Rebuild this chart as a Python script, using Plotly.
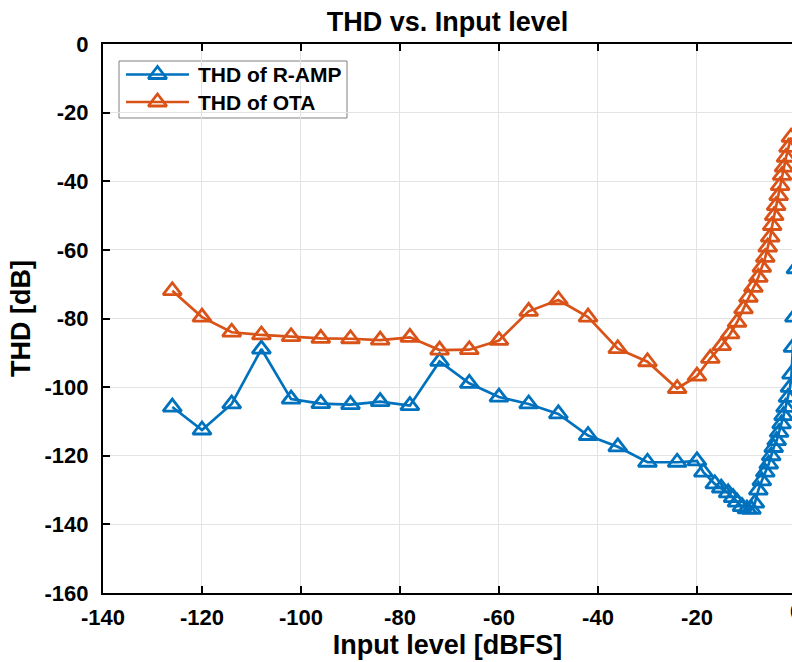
import plotly.graph_objects as go

# ---- data ----
x_ramp = [-126, -120, -114, -108, -102, -96, -90, -84, -78, -72, -66, -60, -54, -48, -42, -36, -30, -24,
          -20, -18.7, -16.4, -15.1, -13.7, -12.7, -11.9, -10.9, -9.9, -9.0, -8.3,
          -7.6, -6.9, -6.2, -5.5, -5.0, -4.5, -3.9, -3.4, -2.9, -2.5,
          -2.1, -1.6, -1.2, -0.9, -0.6, -0.3, 0]
thd_ramp = [-105.8, -112.5, -104.9, -88.9, -103.5, -104.8, -105.1, -104.2, -105.4, -92.5,
            -98.9, -102.9, -104.9, -107.8, -114.1, -117.4, -121.9, -121.9,
            -121.5, -124.8, -128.2, -129.4, -130.8, -132.2, -133.5, -134.8, -135.5, -135.6, -133.8,
            -130.0, -127.3, -124.8, -122.4, -120.0, -117.6, -115.6, -113.2, -110.7, -108.3,
            -105.9, -103.0, -100.1, -96.2, -88.4, -79.6, -65.5]

x_ota = [-126, -120, -114, -108, -102, -96, -90, -84, -78, -72, -66, -60, -54, -48, -42, -36, -30, -24,
         -20, -17.3, -15.0, -13.3, -11.9, -10.6, -9.6, -8.6, -7.6, -6.9, -6.2,
         -5.7, -5.2, -4.8, -4.4, -4.0, -3.5, -3.2, -2.8, -2.4, -2.0,
         -1.5, -1.0]
thd_ota = [-71.9, -79.6, -84.0, -84.8, -85.3, -85.8, -85.9, -86.3, -85.5, -89.2,
           -89.1, -86.4, -77.9, -74.6, -79.6, -88.8, -92.6, -100.4,
           -96.8, -91.6, -87.9, -84.5, -81.1, -77.2, -73.8, -70.9, -68.0, -65.1, -62.2,
           -59.2, -56.3, -52.9, -50.0, -47.1, -44.2, -41.3, -38.3, -35.9, -33.0,
           -30.1, -27.2]

x_ticks = [-140, -120, -100, -80, -60, -40, -20]
x_ticktext = ["-140", "-120", "-100", "-80", "-60", "-40", "-20"]
y_ticks = [-160, -140, -120, -100, -80, -60, -40, -20, 0]
y_ticktext = ["-160", "-140", "-120", "-100", "-80", "-60", "-40", "-20", "0"]
series_names = ["THD of R-AMP", "THD of OTA"]
colors = ["#0072BD", "#D95319"]

FONT = "Liberation Sans, Arial, Helvetica, sans-serif"
X_END = -0.8
W, H = 792, 662
MARGIN = dict(l=103, r=0, t=44, b=69)
PW = W - MARGIN["l"] - MARGIN["r"]
PH = H - MARGIN["t"] - MARGIN["b"]


def px_to_paper(px, py):
    """page pixel -> paper fraction of the plot area."""
    return (px - MARGIN["l"]) / PW, 1 - (py - MARGIN["t"]) / PH


LINE_W = 2.7
MARKER = dict(symbol="triangle-up-open", size=16)

fig = go.Figure()
for xs, ys, name, c in [(x_ramp, thd_ramp, series_names[0], colors[0]),
                        (x_ota, thd_ota, series_names[1], colors[1])]:
    fig.add_trace(go.Scatter(
        x=xs, y=ys, name=name, mode="lines+markers", showlegend=False,
        line=dict(color=c, width=LINE_W),
        marker=dict(**MARKER, color=c, line=dict(color=c, width=2.8)),
    ))

# ---- hand-made legend box (MATLAB style) ----
bx0, by1 = px_to_paper(119, 61)
bx1, by0 = px_to_paper(347, 118)
fig.add_shape(type="rect", xref="paper", yref="paper", x0=bx0, x1=bx1, y0=by0, y1=by1,
              line=dict(color="#808080", width=1), fillcolor="white", layer="between")
row_py = [74.5, 102]
for name, c, py in zip(series_names, colors, row_py):
    lx0, ly = px_to_paper(126, py)
    lx1, _ = px_to_paper(189, py)
    mx, _ = px_to_paper(157.5, py)
    tx, _ = px_to_paper(196, py)
    fig.add_shape(type="line", xref="paper", yref="paper", x0=lx0, x1=lx1, y0=ly, y1=ly,
                  line=dict(color=c, width=LINE_W), layer="between")
    fig.add_trace(go.Scatter(x=[mx], y=[ly], xaxis="x2", yaxis="y2", mode="markers",
                             showlegend=False, hoverinfo="skip", cliponaxis=False,
                             marker=dict(**MARKER, color=c, line=dict(color=c, width=2.8))))
    fig.add_annotation(text=name, xref="paper", yref="paper", x=tx, y=ly,
                       xanchor="left", yanchor="middle", showarrow=False,
                       font=dict(family=FONT, size=21, color="black", weight=700))

axis_common = dict(
    showgrid=True, gridcolor="#e3e3e3", gridwidth=1,
    showline=True, linecolor="black", linewidth=2,
    ticks="inside", ticklen=7, tickwidth=2, tickcolor="black",
    zeroline=False, automargin=False,
    tickfont=dict(family=FONT, size=22, color="black", weight=700),
)

fig.update_layout(
    width=W, height=H,
    margin=dict(**MARGIN, autoexpand=False),
    paper_bgcolor="white", plot_bgcolor="white",
    showlegend=False,
    title=dict(text="THD vs. Input level", x=0.5, xref="paper", xanchor="center",
               y=1 - 22 / H, yref="container", yanchor="middle",
               font=dict(family=FONT, size=27, color="black", weight=700)),
    xaxis=dict(range=[-140, X_END], tickvals=x_ticks, ticktext=x_ticktext, mirror="ticks",
               title=dict(text="Input level [dBFS]", standoff=6,
                          font=dict(family=FONT, size=27, color="black", weight=700)),
               ticklabelstandoff=4,
               **axis_common),
    yaxis=dict(range=[-160, 0], tickvals=y_ticks, ticktext=y_ticktext,
               title=dict(text="THD [dB]", standoff=6,
                          font=dict(family=FONT, size=27, color="black", weight=700)),
               ticklabelstandoff=8,
               **axis_common),
    xaxis2=dict(overlaying="x", range=[0, 1], visible=False, fixedrange=True),
    yaxis2=dict(overlaying="y", range=[0, 1], visible=False, fixedrange=True),
)

# the "0" tick label of the x axis sits just past the cropped right edge
fig.add_annotation(text="0", xref="paper", yref="paper",
                   x=(0 - (-140)) / (X_END - (-140)), y=0, xanchor="center", yanchor="top",
                   yshift=-4, showarrow=False,
                   font=dict(family=FONT, size=22, color="black", weight=700))

fig.write_html(
    "out.html",
    config={"displayModeBar": False},
    post_script="document.body.style.margin='0';document.body.style.overflow='hidden';",
)
